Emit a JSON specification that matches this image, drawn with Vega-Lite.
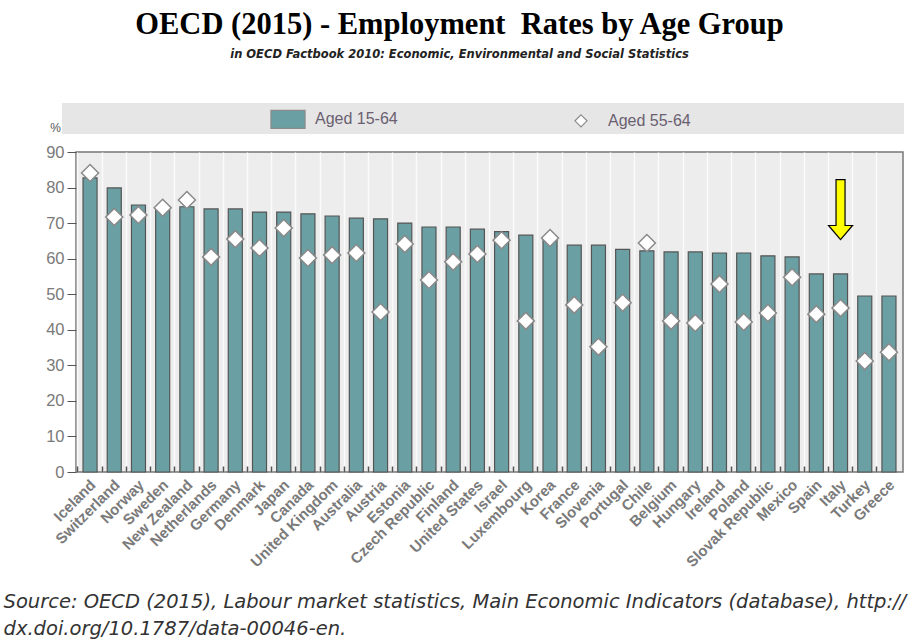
{
  "$schema": "https://vega.github.io/schema/vega-lite/v6.json",
  "width": 827,
  "height": 320,
  "autosize": {"type": "none"},
  "padding": {"left": 76, "top": 152, "right": 11, "bottom": 172},
  "background": "white",
  "title": {
    "text": "OECD (2015) - Employment\u00a0 Rates by Age Group",
    "subtitle": "in OECD Factbook 2010: Economic, Environmental and Social Statistics",
    "anchor": "middle",
    "frame": "group",
    "dx": -30,
    "offset": 43,
    "font": "Liberation Serif",
    "fontSize": 30.5,
    "fontWeight": "bold",
    "color": "#000000",
    "subtitleFont": "DejaVu Sans",
    "subtitleFontSize": 11.5,
    "subtitleFontStyle": "italic",
    "subtitleFontWeight": "bold",
    "subtitleColor": "#222222",
    "subtitlePadding": 8
  },
  "data": {
    "values": [
      {"country": "Iceland", "Aged 15-64": 82.7, "Aged 55-64": 84.1},
      {"country": "Switzerland", "Aged 15-64": 79.9, "Aged 55-64": 71.7},
      {"country": "Norway", "Aged 15-64": 75.1, "Aged 55-64": 72.3},
      {"country": "Sweden", "Aged 15-64": 73.6, "Aged 55-64": 74.3},
      {"country": "New Zealand", "Aged 15-64": 74.6, "Aged 55-64": 76.5},
      {"country": "Netherlands", "Aged 15-64": 74.0, "Aged 55-64": 60.5},
      {"country": "Germany", "Aged 15-64": 74.0, "Aged 55-64": 65.5},
      {"country": "Denmark", "Aged 15-64": 73.1, "Aged 55-64": 63.0},
      {"country": "Japan", "Aged 15-64": 73.1, "Aged 55-64": 68.6},
      {"country": "Canada", "Aged 15-64": 72.6, "Aged 55-64": 60.2},
      {"country": "United Kingdom", "Aged 15-64": 72.0, "Aged 55-64": 61.0},
      {"country": "Australia", "Aged 15-64": 71.4, "Aged 55-64": 61.6},
      {"country": "Austria", "Aged 15-64": 71.2, "Aged 55-64": 45.0},
      {"country": "Estonia", "Aged 15-64": 70.0, "Aged 55-64": 64.1},
      {"country": "Czech Republic", "Aged 15-64": 68.9, "Aged 55-64": 54.0},
      {"country": "Finland", "Aged 15-64": 68.9, "Aged 55-64": 59.1},
      {"country": "United States", "Aged 15-64": 68.3, "Aged 55-64": 61.3},
      {"country": "Israel", "Aged 15-64": 67.6, "Aged 55-64": 65.2},
      {"country": "Luxembourg", "Aged 15-64": 66.6, "Aged 55-64": 42.5},
      {"country": "Korea", "Aged 15-64": 65.7, "Aged 55-64": 65.8},
      {"country": "France", "Aged 15-64": 63.8, "Aged 55-64": 47.0},
      {"country": "Slovenia", "Aged 15-64": 63.8, "Aged 55-64": 35.2},
      {"country": "Portugal", "Aged 15-64": 62.6, "Aged 55-64": 47.6},
      {"country": "Chile", "Aged 15-64": 62.2, "Aged 55-64": 64.4},
      {"country": "Belgium", "Aged 15-64": 61.9, "Aged 55-64": 42.5},
      {"country": "Hungary", "Aged 15-64": 61.9, "Aged 55-64": 41.9},
      {"country": "Ireland", "Aged 15-64": 61.6, "Aged 55-64": 52.9},
      {"country": "Poland", "Aged 15-64": 61.6, "Aged 55-64": 42.2},
      {"country": "Slovak Republic", "Aged 15-64": 60.8, "Aged 55-64": 44.7},
      {"country": "Mexico", "Aged 15-64": 60.5, "Aged 55-64": 54.8},
      {"country": "Spain", "Aged 15-64": 55.7, "Aged 55-64": 44.4},
      {"country": "Italy", "Aged 15-64": 55.7, "Aged 55-64": 46.1},
      {"country": "Turkey", "Aged 15-64": 49.5, "Aged 55-64": 31.2},
      {"country": "Greece", "Aged 15-64": 49.5, "Aged 55-64": 33.7}
    ]
  },
  "transform": [{"fold": ["Aged 15-64", "Aged 55-64"], "as": ["group", "rate"]}],
  "encoding": {
    "x": {
      "field": "country",
      "type": "nominal",
      "sort": null,
      "scale": {"paddingInner": 0.42, "paddingOuter": 0.29},
      "axis": {
        "bandPosition": -0.36,
        "grid": true,
        "gridColor": "#fbfbfb",
        "gridWidth": 1.5,
        "ticks": true,
        "tickSize": -6,
        "tickColor": "#555555",
        "tickWidth": 1.5,
        "domain": false,
        "labelAngle": -45,
        "labelFont": "Liberation Sans",
        "labelFontSize": 15,
        "labelFontWeight": "bold",
        "labelColor": "#7a7a7a",
        "labelOffset": -2,
        "labelPadding": 11,
        "title": ["Source: OECD (2015), Labour market statistics, Main Economic Indicators (database), http://", "dx.doi.org/10.1787/data-00046-en."],
        "titleX": -73,
        "titleY": 120,
        "titleAnchor": "start",
        "titleAlign": "left",
        "titleBaseline": "top",
        "titleFont": "DejaVu Sans",
        "titleFontSize": 19.5,
        "titleFontStyle": "italic",
        "titleFontWeight": "normal",
        "titleColor": "#333333",
        "titleLineHeight": 27
      }
    }
  },
  "layer": [
    {
      "transform": [{"filter": "datum.group === 'Aged 15-64'"}],
      "mark": {"type": "bar", "stroke": "#555555", "strokeWidth": 1.2},
      "encoding": {
        "y": {
          "field": "rate",
          "type": "quantitative",
          "scale": {"domain": [0, 90], "nice": false},
          "axis": {
            "tickCount": 9,
            "grid": false,
            "domain": false,
            "tickSize": 9,
            "tickColor": "#555555",
            "labelFont": "Liberation Sans",
            "labelFontSize": 16.5,
            "labelColor": "#7a7a7a",
            "labelPadding": 3,
            "title": "%",
            "titleAngle": 0,
            "titleX": -21,
            "titleY": -25,
            "titleAlign": "center",
            "titleBaseline": "middle",
            "titleFont": "Liberation Sans",
            "titleFontSize": 12,
            "titleFontWeight": "normal",
            "titleColor": "#555555"
          }
        },
        "fill": {
          "field": "group",
          "type": "nominal",
          "scale": {"domain": ["Aged 15-64", "Aged 55-64", "\u200b"], "range": ["#6a9fa3", "#ffffff", "#e6e6e6"]},
          "legend": {
            "orient": "none",
            "legendX": -14,
            "legendY": -49,
            "direction": "horizontal",
            "title": " ",
            "titleOrient": "left",
            "titlePadding": 210,
            "titleFontSize": 11,
            "fillColor": "#e6e6e6",
            "padding": 3,
            "symbolSize": 576,
            "symbolStrokeColor": "#555555",
            "symbolStrokeWidth": 1.2,
            "labelFont": "Liberation Sans",
            "labelFontSize": 16,
            "labelColor": "#6a6070",
            "labelOffset": 14,
            "columnPadding": 170,
            "labelLimit": 800
          }
        }
      }
    },
    {
      "transform": [{"filter": "datum.group === 'Aged 55-64'"}],
      "mark": {"type": "point", "filled": true, "stroke": "#8a8a8a", "strokeWidth": 1.5, "size": 1156, "opacity": 1},
      "encoding": {
        "y": {"field": "rate", "type": "quantitative"},
        "fill": {"field": "group", "type": "nominal"},
        "shape": {
          "field": "group",
          "type": "nominal",
          "scale": {"domain": ["Aged 15-64", "Aged 55-64", "\u200b"], "range": ["M-1.42,-0.75H1.42V0.75H-1.42Z", "M0,-0.5L0.5,0L0,0.5L-0.5,0Z", "M0,0Z"]},
          "legend": {
            "orient": "none",
            "legendX": -14,
            "legendY": -49,
            "direction": "horizontal",
            "title": " ",
            "titleOrient": "left",
            "titlePadding": 210,
            "titleFontSize": 11,
            "fillColor": "#e6e6e6",
            "padding": 3,
            "symbolSize": 576,
            "symbolStrokeColor": "#555555",
            "symbolStrokeWidth": 1.2,
            "labelFont": "Liberation Sans",
            "labelFontSize": 16,
            "labelColor": "#6a6070",
            "labelOffset": 14,
            "columnPadding": 170,
            "labelLimit": 800
          }
        }
      }
    },
    {
      "data": {"values": [{"country": "Italy", "level": 73.8}]},
      "mark": {"type": "point", "shape": "M-0.15,-1L0.15,-1L0.15,0.53L0.4,0.53L0,1L-0.4,0.53L-0.15,0.53Z", "size": 3600, "filled": true, "fill": "#ffff00", "stroke": "#000000", "strokeWidth": 1.2, "opacity": 1},
      "encoding": {
        "x": {"field": "country", "type": "nominal", "sort": null},
        "y": {"field": "level", "type": "quantitative"}
      }
    }
  ],
  "config": {
    "view": {"fill": "#ededed", "stroke": "#777777", "strokeWidth": 1.5}
  }
}
